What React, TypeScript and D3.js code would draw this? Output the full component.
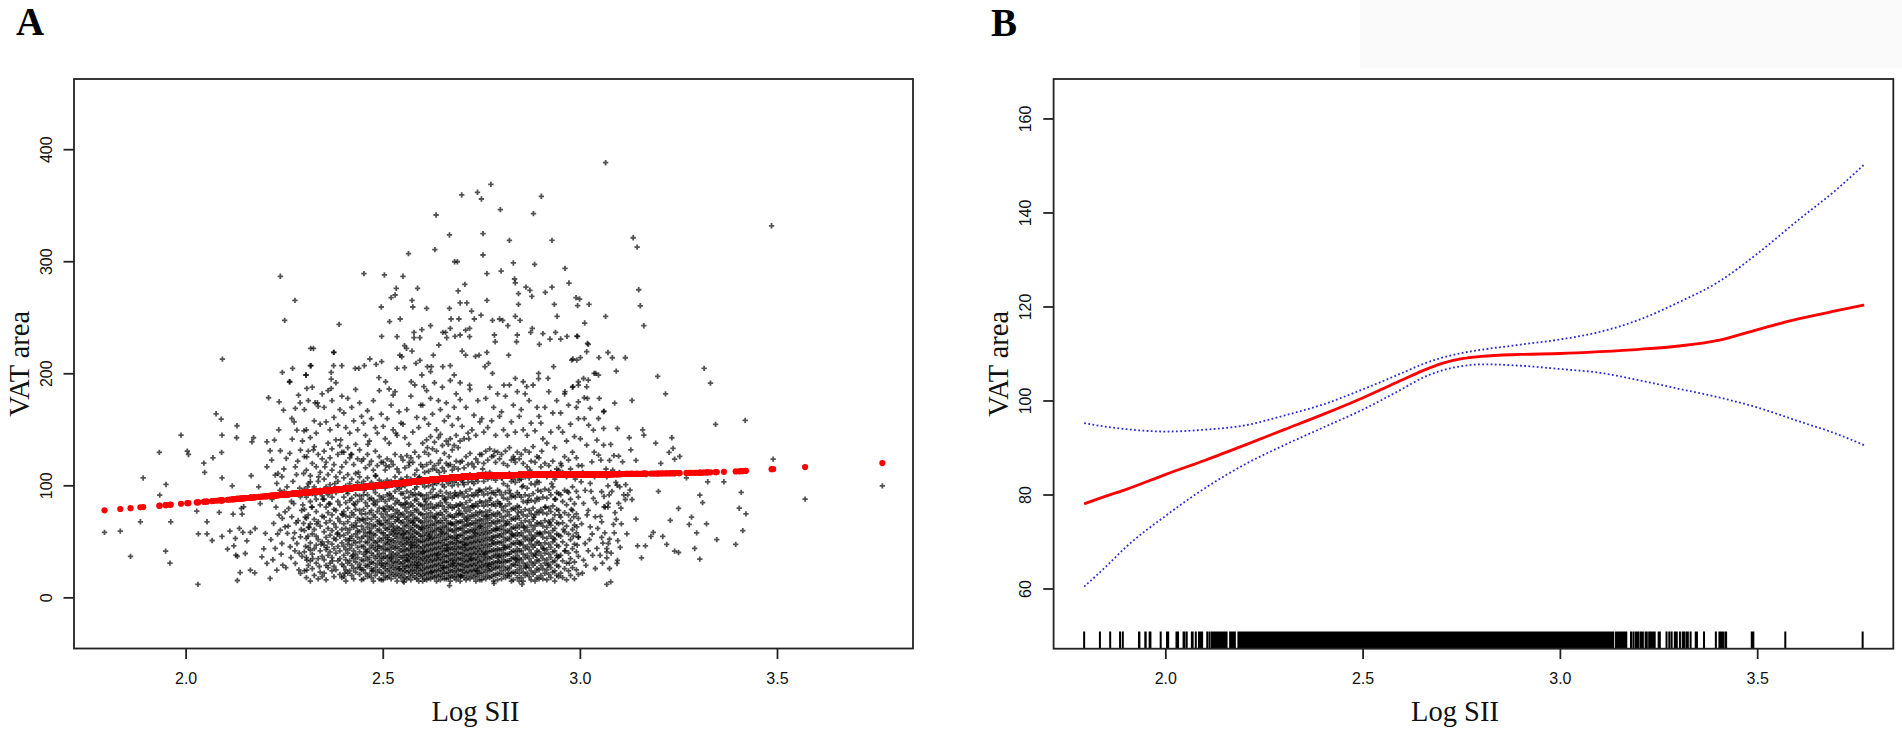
import React from 'react';
import * as d3 from 'd3';

const W = 1902;
const H = 743;

// ---------- Panel A data: [Log SII, VAT area] ----------
const leftTail: number[][] = [
  [1.793,58.4],[1.833,59.6],[1.859,37],[1.884,67.9],[1.891,107],[1.932,129.8],[1.933,91.7],[1.949,101.2],
  [1.948,41.7],[1.961,67.9],[1.959,31],[1.987,145.3],[2.003,131],[2.006,128],[2.030,12],[2.027,77.4],
  [2.031,57.1],[2.045,120.3],[2.047,112],[2.053,57.1],[2.053,67.9],[2.066,51.2],[2.068,125],[2.076,164.3],
  [2.089,159.5],[2.090,129.8],[2.091,107.1],[2.091,54.8],[2.084,76.3],[2.091,145.3],[2.092,213.1],[2.105,43.5],
  [2.111,59.6],[2.117,100],[2.119,74.7],[2.121,46.4],[2.125,53],[2.126,38.1],[2.130,37],[2.130,15.5],
  [2.129,153.6],[2.128,142.9],[2.135,62],[2.137,22.6],[2.140,79.8],[2.142,74.7],[2.144,58.4],[2.146,81.3],
  [2.150,39.6],[2.154,50.9],[2.163,58.4],[2.163,24.7],[2.165,109],[2.167,139.3],[2.171,142.9],[2.174,22.3],
  [2.175,61.9],[2.184,99.1],[2.188,84.2],[2.192,36.6],[2.197,43.8],[2.201,57.5],[2.205,117],[2.205,30.7],
  [2.205,139.3],[2.209,178.6],[2.213,17.3],[2.213,131.3]
];

const leftShoulder: number[][] = [
  [2.218,88],[2.222,66.4],[2.224,140.8],[2.226,109.6],[2.226,44.1],[2.230,24.7],[2.230,102.1],[2.233,111],
  [2.236,73.8],[2.236,175],[2.239,60.4],[2.239,131.3],[2.243,48.5],[2.243,108.1],[2.245,29.2],[2.247,167.6],
  [2.249,95],[2.251,63.4],[2.251,76.8],[2.254,124.4],[2.257,57.5],[2.260,79.8],[2.260,91.7],[2.262,192.9],
  [2.264,45.6],[2.266,36],[2.268,72.3],[2.268,160.1],[2.269,141.7],[2.271,104],[2.273,84.2],[2.275,58],
  [2.277,169.1],[2.277,117],[2.277,30.7],[2.279,67],[2.281,93.2],[2.281,149.7],[2.281,48.5],[2.283,122],
  [2.285,181],[2.287,40],[2.289,174.1],[2.290,131.9],[2.290,54.5],[2.290,21.8],[2.290,90.2],[2.293,78],
  [2.295,140],[2.298,111],[2.298,66.4],[2.306,125.9],[2.306,33.7],[2.306,24.7],[2.306,186.9],[2.315,103.6],
  [2.315,42.6],[2.327,174.1],[2.333,174.1],
  [2.215,52],[2.217,123],[2.220,34],[2.228,81],[2.232,57],[2.235,150],[2.238,96],[2.241,39],[2.244,71],
  [2.248,115],[2.253,27],[2.256,99],[2.259,64],[2.263,129],[2.267,86],[2.272,53],[2.274,157],[2.276,42],
  [2.280,110],[2.284,69],[2.286,25],[2.288,98],[2.292,61],[2.294,37],[2.296,83],[2.299,149],[2.302,72],
  [2.303,46],[2.308,99],[2.309,55],[2.318,81],[2.321,35],[2.323,132],[2.331,66],[2.336,108],[2.342,48],[2.347,88]
];

const highPoints: number[][] = [
  [2.699,359.6],[2.739,362],[2.749,356],[2.773,369.1],[2.797,346.5],[2.901,358.4],[2.634,341.7],[2.881,342.9],
  [2.668,323.9],[2.753,325.1],[2.820,319.1],[2.928,319.1],[2.564,307.2],[2.631,310.8],[2.753,306],[2.681,300],
  [2.688,300],[2.830,298.9],[2.884,297.7],[2.961,294.1],[2.239,287],[2.451,289.4],[2.503,288.2],[2.550,287],
  [2.763,289.4],[2.799,291.7],[2.971,281],[2.833,284.6],[2.835,281.2],[2.707,279.8],[2.862,277.4],[2.872,274.5],
  [2.911,272.7],[2.843,271.5],[2.928,277.4],[2.989,268],[2.998,266.7],[3.022,262],[2.934,262],[2.993,260.8],
  [2.763,265.5],[2.877,269.1],[2.843,262],[2.690,273.9],[2.668,258.4],[2.695,263.2],[2.712,263.2],[2.587,276.3],
  [2.573,265.5],[2.575,259.6],[2.610,258.4],[2.520,268],[2.530,270.3],[2.495,259.6],[2.276,265.5],[2.250,247.7],
  [2.388,244.1],[2.543,248.9],[2.516,246.5],[2.748,252.4],[2.731,248.9],[2.692,248.9],[2.672,248.9],[2.724,256],
  [2.777,247.7],[2.795,248.9],[2.803,247.7],[2.835,251.3],[2.847,247.7],[2.941,251.3],[2.905,235.8],[2.937,237],
  [3.011,245.3],[3.020,226.3],[2.993,233.4],[3.047,214.4],[2.966,233.4],[2.923,231],[2.981,213.2],[3.000,214.4],
  [2.950,231],[2.896,226.3],[2.878,240.5],[2.874,237],[2.840,234.6],[2.838,228.6],[2.816,242.9],[2.818,216.7],
  [2.782,234.6],[2.784,228.6],[2.763,219.1],[2.743,216.7],[2.719,240.5],[2.719,233.1],[2.709,239],[2.695,234.6],
  [2.682,233.4],[2.651,237],[2.658,237],[2.670,240.5],[2.661,232.2],[2.700,220.3],[2.709,216.7],[2.734,215.5],
  [2.670,207.2],[2.641,225.7],[2.627,216.7],[2.620,242.9],[2.598,239.4],[2.578,237],[2.578,232.2],[2.593,232.2],
  [2.554,225.1],[2.559,222.7],[2.542,216.7],[2.547,215.2],[2.593,212],[2.583,209.3],[2.612,206.3],[2.622,206.3],
  [2.535,233.1],[2.573,220.3],[2.535,204.8],[2.496,233.4],[2.533,276.3],[2.466,213.2],[2.482,208.4],[2.452,207.2],
  [2.438,204.8],[2.429,204.8],[2.395,207.2],[2.374,219.1],[2.374,207.2],[2.368,201.3],[2.368,195.3],[2.368,187],
  [2.316,222.7],[2.317,207.2],[2.304,198.9],[2.270,204.8],[2.244,201.3],[2.263,192.9],[2.496,210.8],[2.489,196.5],
  [2.506,192.9],[2.525,181],[2.515,186.4],[2.554,205.4],[2.571,192.9],[2.598,198.9],[2.603,188.5],[2.620,201.9],
  [2.651,206.3],[2.680,198.9],[2.695,192],[2.719,189.9],[2.758,206.3],[2.767,209.3],[2.777,200.4],[2.806,189.9],
  [2.835,195.9],[2.855,192.9],[2.864,188.5],[2.894,200.4],[2.894,195.6],[2.918,195.9],[2.932,206.3],[2.961,184],
  [2.981,188.5],[2.995,192.9],[3.010,178.6],[3.039,200.4],[3.046,198.8],[3.020,194.4],[2.323,222.6],[2.315,207.2],
  [2.375,219.1],[2.304,198.8],[3.016,219.7],[2.991,233.6],[3.018,227.1],[2.978,212.2],[2.991,212.2],[3.035,200.3],
  [3.008,195.8]
];

const rightShoulder: number[][] = [
  [3.008,33.7],[3.012,48.5],[3.025,63.4],[2.991,63.4],[2.995,54.5],[2.983,72.3],[3.038,72.3],[3.008,84.3],
  [3.033,88.7],[3.054,94.7],[3.025,102.1],[3.002,103.6],[3.060,81.3],[3.054,67.9],[3.038,26.2],[3.042,44.1],
  [3.029,121.4],[3.046,127.4],[3.059,136.3],[3.042,140.8],[3.016,136.3],[3.033,149.7],[3.059,151.2],[3.059,166.1],
  [3.046,160.1],[3.021,154.2],[3.018,178],[3.025,169.1],[2.995,175],[3.016,188.4],[2.995,189.9],[3.004,118],
  [3.012,96],[3.020,78],[3.030,57],[3.045,110],[3.050,38],[3.000,142],[3.010,160],[3.040,85],[3.020,42],
  [3.035,130],[3.048,178],[3.005,22],[3.067,108.1],[3.082,114],[3.051,72.7],[3.060,90.5],[3.070,100],
  [3.080,95],[3.090,103],[3.100,99],[3.110,92],[3.120,92],[3.115,101],[3.097,126.5],[3.126,96.2],[3.093,100.6],
  [3.114,87.8],[3.131,87.8],[3.071,84.3],[3.097,84.3],[3.054,53.9],[3.071,48.5],[3.067,44],[3.067,41],
  [3.093,30.7],[3.070,81],[3.063,81],[3.067,35.7],[3.086,58],[3.088,76],[3.101,45],[3.104,66],
  [3.003,66],[3.006,112],[3.014,29],[3.017,74],[3.023,52],[3.027,95],[3.031,38],[3.036,108],[3.044,62],
  [3.052,123],[3.056,31],[3.062,58],[3.065,115],[3.073,92],[3.078,40],[3.085,127],[3.091,70],[3.095,51],
  [3.099,112],[3.103,80]
];

const rightTail: number[][] = [
  [3.064,388.4],[3.485,332.1],[3.134,321.4],[3.144,313.1],[3.148,275],[3.152,260.7],[3.161,242.9],[3.064,251.2],
  [3.070,219],[3.081,214.3],[3.114,214.3],[3.091,202.4],[3.196,197.7],[3.314,204.8],[3.330,191.7],[3.216,182.1],
  [3.131,176.2],[3.087,173.8],[3.060,166.7],[3.343,154.8],[3.418,158.4],[3.094,151.2],[3.161,145.3],[3.124,142.9],
  [3.232,142.9],[3.191,138.1],[3.077,136.9],[3.128,132.1],[3.235,133.4],[3.225,129.8],[3.252,126.2],[3.239,123.8],
  [3.074,122.7],[3.107,121.4],[3.141,122.7],[3.489,123.8],[3.269,107.1],[3.323,103.6],[3.364,103.6],[3.303,91.7],
  [3.408,94.1],[3.570,88.1],[3.766,100],[3.249,79.8],[3.228,69.1],[3.276,65.5],[3.141,70.3],[3.084,65.5],
  [3.185,58.4],[3.179,54.8],[3.209,54.8],[3.118,57.1],[3.145,46.4],[3.165,46.4],[3.219,47.7],[3.239,41.7],
  [3.249,40.5],[3.290,44.1],[3.303,34.6],[3.394,47.7],[3.155,35.7],[3.074,52.4],[3.057,48.8],[3.094,33.4],
  [3.074,26.2],[3.067,12],[3.077,14.3],[3.158,150],[3.167,110],[3.198,95],[3.204,120],[3.282,72],[3.295,58],
  [3.310,85],[3.320,66],[3.346,52],[3.403,80],[3.412,60],[3.420,75]
];

// Extra observations scattered inside the dense core
const coreExtra: number[][] = [
  [2.312,63],[2.327,92],[2.338,28],[2.352,117],[2.358,45],[2.362,84],[2.371,33],[2.377,102],[2.383,57],
  [2.392,141],[2.397,74],[2.402,22],[2.408,95],[2.413,51],[2.418,128],[2.423,38],[2.428,83],[2.432,64],
  [2.437,112],[2.442,27],[2.447,70],[2.452,96],[2.457,41],[2.461,137],[2.466,58],[2.471,24],[2.476,87],
  [2.481,109],[2.486,46],[2.491,66],[2.496,31],[2.502,79],[2.507,118],[2.511,52],[2.516,93],[2.521,36],
  [2.526,61],[2.532,147],[2.537,72],[2.541,26],[2.546,99],[2.551,57],[2.556,84],[2.561,33],[2.566,121],
  [2.571,47],[2.576,68],[2.581,92],[2.586,29],[2.592,108],[2.597,63],[2.602,41],[2.607,86],[2.612,134],
  [2.617,55],[2.622,23],[2.627,97],[2.632,71],[2.637,38],[2.642,112],[2.647,59],[2.652,27],[2.657,88],
  [2.662,44],[2.667,126],[2.672,66],[2.677,31],[2.682,94],[2.687,53],[2.692,78],[2.697,19],[2.702,103],
  [2.707,47],[2.712,69],[2.717,142],[2.722,35],[2.727,82],[2.732,58],[2.737,24],[2.742,96],[2.747,64],
  [2.752,115],[2.757,39],[2.762,73],[2.767,28],[2.772,89],[2.777,51],[2.782,131],[2.787,62],[2.792,36],
  [2.797,84],[2.802,107],[2.807,45],[2.812,66],[2.817,22],[2.822,93],[2.827,57],[2.832,124],[2.837,34],
  [2.842,76],[2.847,48],[2.852,99],[2.857,63],[2.862,27],[2.867,87],[2.872,114],[2.877,52],[2.882,72],
  [2.887,38],[2.892,96],[2.897,58],[2.902,131],[2.907,44],[2.912,81],[2.917,29],[2.922,67],[2.927,102],
  [2.932,53],[2.937,88],[2.942,36],[2.947,74],[2.952,118],[2.957,61],[2.962,42],[2.967,95],[2.972,31],
  [2.977,79],[2.982,55],[2.987,106],[2.992,47],[2.668,11],[2.781,13],[2.553,14],[2.852,12]
];

// Dense core: Log SII value -> VAT area values observed there
const coreColumns: [number, number[]][] = [
  [2.300,[24,41,60,79,97,126,168]],
  [2.305,[18,36,53,71,90,114,150]],
  [2.310,[29,45,63,74,102,131,176]],
  [2.315,[15,33,49,66,86,109,143]],
  [2.320,[26,39,57,81,93,120,188]],
  [2.325,[20,44,61,70,99,135,158]],
  [2.330,[31,47,55,77,88,117,147]],
  [2.335,[17,35,52,68,104,128,171]],
  [2.340,[23,42,64,83,96,112,155]],
  [2.345,[19,37,50,73,91,124,182]],
  [2.350,[22,34,47,59,72,88,106,131,170]],
  [2.355,[16,29,43,54,67,81,99,121,157]],
  [2.360,[27,38,50,62,76,92,110,138,185]],
  [2.365,[31,41,56,69,84,101,125,150]],
  [2.370,[24,36,48,60,74,90,114,133,176]],
  [2.375,[19,28,44,53,66,79,97,119,161]],
  [2.380,[25,40,52,63,78,94,108,141,192]],
  [2.385,[33,46,58,71,86,104,128,154]],
  [2.390,[21,35,42,55,68,83,112,136,168]],
  [2.395,[18,30,49,61,75,96,117,130,180]],
  [2.400,[19,28,38,46,56,66,77,90,107,130,165]],
  [2.405,[15,25,34,43,52,62,73,85,100,121,152]],
  [2.410,[22,31,40,48,58,68,80,93,110,134,178]],
  [2.415,[24,33,44,53,61,72,87,102,125,147]],
  [2.420,[20,29,37,47,55,65,76,89,106,128,170]],
  [2.425,[17,26,35,42,51,63,74,84,99,119,158]],
  [2.430,[23,32,39,49,57,67,79,92,111,137,186]],
  [2.435,[27,36,45,54,60,71,86,103,124,150]],
  [2.440,[21,30,41,50,59,69,78,91,108,132,174]],
  [2.445,[16,25,34,46,53,64,75,88,101,122,162]],
  [2.450,[17,25,33,39,46,55,61,70,79,92,104,124,156]],
  [2.455,[22,29,37,43,50,58,67,75,85,98,116,145]],
  [2.460,[19,28,34,41,49,55,63,71,82,92,107,128,167]],
  [2.465,[21,30,36,44,52,59,66,76,88,100,119,140]],
  [2.470,[18,26,32,40,47,54,62,70,78,89,103,122,160]],
  [2.475,[15,24,31,38,45,51,57,65,74,84,97,114,176]],
  [2.480,[20,27,35,43,49,56,64,72,83,94,109,131,152]],
  [2.485,[23,30,37,42,50,60,68,77,86,99,118,147]],
  [2.490,[17,25,33,39,46,53,61,69,80,91,105,126,185]],
  [2.495,[16,22,29,36,44,51,58,66,75,88,102,121,164]],
  [2.500,[16,22,28,35,40,46,53,58,65,72,80,90,103,121,153]],
  [2.505,[19,26,31,37,43,49,56,62,69,77,86,98,114,142]],
  [2.510,[18,24,30,36,43,48,54,61,67,74,82,92,105,124,160]],
  [2.515,[20,26,33,38,44,50,56,63,70,79,88,100,117,138]],
  [2.520,[17,23,29,35,41,47,52,59,66,73,81,91,104,122,172]],
  [2.525,[21,27,32,39,45,51,57,64,72,79,89,101,119,150]],
  [2.530,[19,25,31,37,44,49,55,60,68,75,84,95,108,128,184]],
  [2.535,[15,22,28,34,40,46,53,58,63,70,78,87,99,115,145]],
  [2.540,[20,26,32,38,44,50,57,62,69,76,85,97,112,166]],
  [2.545,[18,24,30,36,42,48,54,60,67,74,83,93,106,126,156]],
  [2.550,[15,21,26,31,36,41,46,51,56,62,68,75,83,93,105,123,155]],
  [2.555,[18,24,28,33,38,43,48,53,59,65,72,80,89,100,116,143]],
  [2.560,[17,23,28,34,38,43,49,53,58,64,70,77,85,95,108,127,168]],
  [2.565,[19,24,29,35,39,44,50,54,60,67,73,81,90,102,118,137]],
  [2.570,[16,22,27,32,37,42,47,52,57,63,69,76,84,94,106,125,180]],
  [2.575,[20,25,30,36,40,45,50,55,61,67,74,82,92,104,121,148]],
  [2.580,[18,24,29,34,39,45,49,54,59,65,71,78,87,97,110,130,190]],
  [2.585,[17,22,27,32,37,42,47,52,58,64,71,79,88,99,114,161]],
  [2.590,[15,21,26,31,36,41,46,51,57,63,69,76,84,93,107,126,152]],
  [2.595,[19,24,29,34,39,44,50,55,61,68,75,83,92,103,119,172]],
  [2.600,[15,20,25,30,35,40,45,50,55,61,67,74,82,91,102,117,138,172]],
  [2.605,[17,22,27,33,37,42,47,52,58,64,71,79,88,99,112,130,160]],
  [2.610,[16,21,26,31,36,41,46,51,56,62,68,75,83,92,104,119,141,185]],
  [2.615,[18,23,28,34,38,43,48,53,59,65,72,80,89,100,113,128,155]],
  [2.620,[17,22,27,32,37,42,47,52,57,63,69,76,84,94,106,121,144,178]],
  [2.625,[19,24,29,34,39,44,49,54,60,66,73,81,90,101,115,133,164]],
  [2.630,[18,23,28,33,38,43,48,53,59,65,72,80,90,103,118,139,192]],
  [2.635,[15,20,25,30,35,40,45,50,56,62,68,75,83,92,102,114,131,150]],
  [2.640,[19,24,29,34,39,44,49,54,61,67,74,82,91,104,120,143,176]],
  [2.645,[16,21,26,31,36,41,46,51,57,63,69,76,85,95,107,123,146,168]],
  [2.650,[19,24,29,34,39,44,49,55,61,67,74,82,91,101,116,136,188]],
  [2.655,[17,22,27,32,37,42,47,52,58,64,71,79,88,99,113,129,158]],
  [2.660,[17,22,27,32,37,42,47,52,57,63,69,77,85,94,105,120,140,174]],
  [2.665,[18,23,28,33,38,43,48,54,60,66,73,81,90,102,118,137,162]],
  [2.670,[15,20,25,30,35,40,45,50,55,61,67,74,83,93,104,119,142,194]],
  [2.675,[19,24,29,34,39,44,49,54,60,66,72,80,89,100,114,132,154]],
  [2.680,[18,23,28,33,38,43,48,53,59,65,72,81,91,103,117,136,170]],
  [2.685,[16,21,26,31,36,41,46,51,56,62,68,75,83,92,105,122,145,182]],
  [2.690,[19,24,29,34,39,44,49,55,61,67,74,82,91,101,115,134,160]],
  [2.695,[15,20,25,30,35,40,45,50,56,62,68,75,84,94,106,121,140,177]],
  [2.700,[20,25,30,35,40,45,50,56,62,68,75,83,93,105,122,153]],
  [2.705,[18,23,28,33,38,43,48,53,59,65,72,80,90,101,116,142]],
  [2.710,[16,22,27,32,37,42,47,52,58,64,70,77,85,95,108,126,170]],
  [2.715,[19,24,29,34,39,44,49,54,60,66,73,81,91,103,119,147]],
  [2.720,[17,23,28,33,38,43,48,53,59,65,71,78,87,97,110,129,186]],
  [2.725,[20,25,30,35,40,45,50,55,61,67,74,82,92,104,120,150]],
  [2.730,[18,24,29,34,39,44,49,54,60,66,73,81,91,102,117,163]],
  [2.735,[15,21,26,31,36,41,46,51,57,63,69,76,84,94,106,124,145]],
  [2.740,[19,24,29,34,39,44,50,55,61,67,74,82,92,104,121,176]],
  [2.745,[16,22,27,32,37,42,47,52,58,64,70,77,86,96,109,128,157]],
  [2.750,[16,22,28,33,39,44,50,56,62,69,76,85,95,109,128,160]],
  [2.755,[19,25,30,36,41,47,53,59,66,73,82,92,104,120,148]],
  [2.760,[17,23,29,34,40,45,51,57,63,70,77,86,97,111,131,178]],
  [2.765,[20,26,31,37,42,48,54,60,67,74,83,93,106,123,152]],
  [2.770,[18,24,30,35,41,46,52,58,64,71,78,87,98,112,133,188]],
  [2.775,[19,25,30,36,42,48,54,60,67,74,83,94,107,126,158]],
  [2.780,[15,21,27,32,38,43,49,55,61,68,75,84,94,108,127,170]],
  [2.785,[20,26,31,37,42,48,54,60,66,73,82,92,105,121,145]],
  [2.790,[16,22,28,33,39,44,50,56,62,69,76,86,96,110,130,182]],
  [2.795,[21,27,32,38,43,49,55,61,68,75,84,95,108,124,162]],
  [2.800,[17,24,31,37,43,50,57,64,72,81,92,107,128,166]],
  [2.805,[21,28,34,40,47,54,61,69,78,89,102,120,150]],
  [2.810,[18,25,32,38,44,51,58,65,73,82,94,109,131,180]],
  [2.815,[20,27,33,39,46,53,60,68,77,88,100,118,145]],
  [2.820,[19,26,33,39,45,52,59,66,74,84,96,111,134,190]],
  [2.825,[15,22,29,35,41,48,55,62,70,79,90,104,123,157]],
  [2.830,[16,23,30,36,42,49,56,63,71,80,91,106,126,172]],
  [2.835,[22,29,35,41,48,55,62,70,79,90,103,121,148]],
  [2.840,[18,25,32,38,44,51,58,65,73,82,94,108,130,184]],
  [2.845,[15,22,29,35,42,49,56,63,71,81,92,105,124,162]],
  [2.850,[18,26,34,42,50,58,67,77,90,106,128,168]],
  [2.855,[15,23,31,39,47,55,64,74,86,100,120,150]],
  [2.860,[20,28,36,44,52,60,69,79,92,108,132,182]],
  [2.865,[22,30,38,46,54,63,73,85,98,117,145]],
  [2.870,[19,27,35,43,51,59,68,78,91,107,130,176]],
  [2.875,[16,24,32,40,48,56,65,75,87,102,122,156]],
  [2.880,[21,29,37,45,53,61,70,80,93,110,135,190]],
  [2.885,[15,23,31,39,47,55,64,74,86,101,121,149]],
  [2.890,[18,26,34,42,50,58,67,77,89,104,126,170]],
  [2.895,[17,25,33,41,49,57,66,76,88,103,125,162]],
  [2.900,[20,29,38,47,57,67,79,95,117,156]],
  [2.905,[17,26,35,44,54,64,76,90,110,142]],
  [2.910,[22,31,40,49,59,69,81,97,120,170]],
  [2.915,[16,25,34,43,53,63,75,89,108,138]],
  [2.920,[21,30,39,48,58,68,80,96,118,184]],
  [2.925,[18,27,36,45,55,65,77,92,112,148]],
  [2.930,[23,32,41,50,60,70,82,99,122,165]],
  [2.935,[15,24,33,42,52,62,74,88,106,134]],
  [2.940,[20,29,38,47,57,67,79,94,115,176]],
  [2.945,[19,28,37,46,56,66,78,93,114,152]],
  [2.950,[22,38,55,72,92,120,165]],
  [2.955,[18,33,50,67,86,112,148]],
  [2.960,[26,42,59,76,96,126,182]],
  [2.965,[16,31,47,64,83,108,140]],
  [2.970,[24,40,57,74,94,123,172]],
  [2.975,[20,35,52,69,88,115,155]],
  [2.980,[27,44,61,78,99,130,188]],
  [2.985,[17,32,48,65,84,110,144]],
  [2.990,[25,41,58,75,95,125,170]],
  [2.995,[21,37,54,71,90,118,160]]
];

// ---------- Panel B data: smooth curve fit with 95% CI ----------
const curveX = [1.793,1.85,1.9,2.0,2.1,2.2,2.3,2.4,2.5,2.6,2.65,2.7,2.75,2.8,2.9,3.0,3.1,3.2,3.3,3.4,3.5,3.6,3.7,3.77];
const fitY   = [78.1,79.8,81.2,84.4,87.4,90.6,93.9,97.2,100.7,104.5,106.4,108.0,109.0,109.5,109.9,110.1,110.5,111.0,111.7,112.9,115.2,117.4,119.2,120.4];
const upperY = [95.3,94.5,94.0,93.5,93.9,94.8,96.9,99.3,102.5,106.0,107.8,109.2,110.2,110.9,112.0,113.1,114.7,117.3,121.0,125.3,131.4,138.3,145.0,150.3];
const lowerY = [60.5,64.9,69.0,75.6,81.5,86.5,90.6,94.4,98.2,102.6,104.9,106.5,107.4,107.8,107.5,106.8,106.0,104.4,102.6,100.8,98.6,95.8,93.0,90.6];

const xTicks = [2.0, 2.5, 3.0, 3.5];
const yTicksA = [0, 100, 200, 300, 400];
const yTicksB = [60, 80, 100, 120, 140, 160];

const SERIF = "'Liberation Serif', 'Times New Roman', serif";
const SANS = "'Liberation Sans', Arial, sans-serif";

export default function App() {
  const allPts: number[][] = [
    ...leftTail, ...leftShoulder, ...highPoints, ...rightShoulder, ...rightTail, ...coreExtra,
    ...coreColumns.flatMap(([x, ys]) => ys.map((y) => [x, y])),
  ];

  const xA = d3.scaleLinear().domain([1.7156, 3.8437]).range([74, 913]);
  const yA = d3.scaleLinear().domain([-45.2, 463.1]).range([648.5, 79]);
  const xB = d3.scaleLinear().domain([1.7156, 3.8437]).range([1053.6, 1893.3]);
  const yB = d3.scaleLinear().domain([47.3, 168.5]).range([648.7, 79]);
  const fit = d3.scaleLinear().domain(curveX).range(fitY).clamp(true);

  const cross = d3.symbol().type(d3.symbolCross).size(16)() as string;

  const lineOf = (ys: number[]) =>
    d3.line<number>()
      .x((_, i) => xB(curveX[i]))
      .y((v) => yB(v))
      .curve(d3.curveMonotoneX)(ys) as string;

  const rug = d3.path();
  allPts.forEach(([x]) => {
    rug.moveTo(xB(x), 648.7);
    rug.lineTo(xB(x), 631.5);
  });

  const frame = (x0: number, x1: number, y0: number, y1: number) => (
    <rect x={x0} y={y0} width={x1 - x0} height={y1 - y0} fill="none" stroke="#222" strokeWidth={1.8} />
  );

  return (
    <div style={{ position: 'absolute', left: 0, top: 0, width: W, height: H, background: '#fff' }}>
      <svg width={W} height={H} viewBox={`0 0 ${W} ${H}`} style={{ display: 'block' }}>
        <rect x={0} y={0} width={W} height={H} fill="#fff" />
        <rect x={1360} y={0} width={542} height={68} fill="#fafafa" />

        {/* Panel letters */}
        <text x={16} y={35} fontFamily={SERIF} fontWeight="bold" fontSize={39} fill="#000">A</text>
        <text x={991} y={36} fontFamily={SERIF} fontWeight="bold" fontSize={39} fill="#000">B</text>

        {/* ---------- Panel A ---------- */}
        <g>
          {allPts.map(([x, y], i) => (
            <path key={`p${i}`} d={cross} transform={`translate(${xA(x)},${yA(y)})`} fill="#000" fillOpacity={0.68} />
          ))}
          {allPts.map(([x], i) => (
            <circle key={`r${i}`} cx={xA(x)} cy={yA(fit(x))} r={3.1} fill="#ff0000" />
          ))}
          {frame(74, 913, 79, 648.5)}
          {xTicks.map((t) => (
            <g key={`ax${t}`}>
              <line x1={xA(t)} x2={xA(t)} y1={648.5} y2={659} stroke="#222" strokeWidth={1.8} />
              <text x={xA(t)} y={684} textAnchor="middle" fontFamily={SANS} fontSize={16} fill="#111">{t.toFixed(1)}</text>
            </g>
          ))}
          {yTicksA.map((t) => (
            <g key={`ay${t}`}>
              <line x1={63.5} x2={74} y1={yA(t)} y2={yA(t)} stroke="#222" strokeWidth={1.8} />
              <text transform={`translate(51.5,${yA(t)}) rotate(-90)`} textAnchor="middle" fontFamily={SANS} fontSize={16} fill="#111">{t}</text>
            </g>
          ))}
          <text x={475.5} y={720.7} textAnchor="middle" fontFamily={SERIF} fontSize={28.5} fill="#111">Log SII</text>
          <text transform="translate(28.7,363.8) rotate(-90)" textAnchor="middle" fontFamily={SERIF} fontSize={28.5} fill="#111">VAT area</text>
        </g>

        {/* ---------- Panel B ---------- */}
        <g>
          <path d={rug.toString()} stroke="#000" strokeWidth={2} fill="none" />
          <path d={lineOf(upperY)} fill="none" stroke="#2b2bd6" strokeWidth={1.8} strokeDasharray="1.8 2.4" />
          <path d={lineOf(lowerY)} fill="none" stroke="#2b2bd6" strokeWidth={1.8} strokeDasharray="1.8 2.4" />
          <path d={lineOf(fitY)} fill="none" stroke="#ff0000" strokeWidth={2.8} />
          {frame(1053.6, 1893.3, 79, 648.7)}
          {xTicks.map((t) => (
            <g key={`bx${t}`}>
              <line x1={xB(t)} x2={xB(t)} y1={648.7} y2={659} stroke="#222" strokeWidth={1.8} />
              <text x={xB(t)} y={684} textAnchor="middle" fontFamily={SANS} fontSize={16} fill="#111">{t.toFixed(1)}</text>
            </g>
          ))}
          {yTicksB.map((t) => (
            <g key={`by${t}`}>
              <line x1={1043.3} x2={1053.6} y1={yB(t)} y2={yB(t)} stroke="#222" strokeWidth={1.8} />
              <text transform={`translate(1031.3,${yB(t)}) rotate(-90)`} textAnchor="middle" fontFamily={SANS} fontSize={16} fill="#111">{t}</text>
            </g>
          ))}
          <text x={1455} y={720.7} textAnchor="middle" fontFamily={SERIF} fontSize={28.5} fill="#111">Log SII</text>
          <text transform="translate(1008,363.8) rotate(-90)" textAnchor="middle" fontFamily={SERIF} fontSize={28.5} fill="#111">VAT area</text>
        </g>
      </svg>
    </div>
  );
}
